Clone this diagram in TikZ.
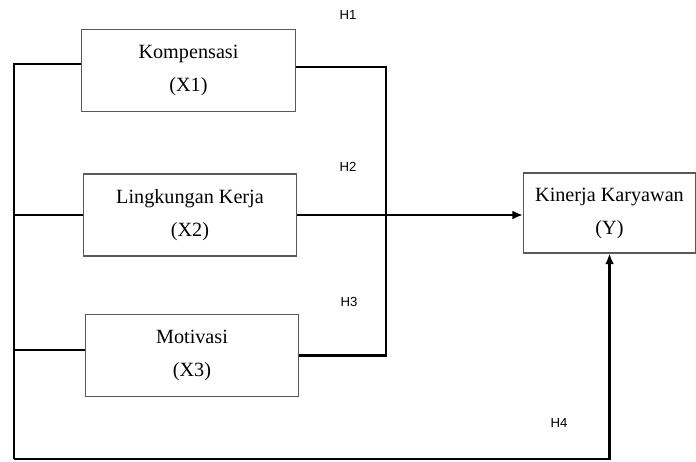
\documentclass[tikz,border=0pt]{standalone}
\usepackage{fontspec}
\setmainfont{Liberation Serif}
\newfontfamily\hfont{Liberation Sans}
\usetikzlibrary{positioning, arrows.meta}

\begin{document}
\begin{tikzpicture}[x=0.02cm, y=-0.02cm, >={Latex[length=6pt,width=5pt]}]

	% Stili per i riquadri, le etichette e i collegamenti
	\tikzset{
		varbox/.style={
			draw=black!65,
			line width=0.6pt,
			minimum width=4.27cm,
			minimum height=1.64cm,
			inner sep=0pt,
			align=center,
			font=\fontsize{11.5}{18.8}\selectfont
		},
		hlabel/.style={
			font=\hfont\fontsize{7.5}{8}\selectfont
		},
		link/.style={
			line width=1.2pt
		}
	}

	\useasboundingbox (0,0) rectangle (696,461);

	% Variabili indipendenti
	\node[varbox] (x1) at (188.5,70.5) {Kompensasi\\(X1)};
	\node[varbox] (x2) at (190,215)    {Lingkungan Kerja\\(X2)};
	\node[varbox] (x3) at (192,355.5)  {Motivasi\\(X3)};

	% Variabile dipendente
	\node[varbox, minimum width=3.44cm, minimum height=1.6cm] (y) at (609.5,213) {Kinerja Karyawan\\(Y)};

	% Punti delle linee di raccordo
	\coordinate (topL) at (14,64);
	\coordinate (midL) at (14,350);
	\coordinate (botL) at (14,459);
	\coordinate (topR) at (386,67);

	% Raccordo a sinistra (H4)
	\draw[link] (x1.west |- topL) -- (topL) -- (botL);
	\draw[link] (x2.west -| botL) -- (x2.west);
	\draw[link] (midL) -- (midL -| x3.west);
	\draw[link, ->] (botL) -| (y.south);

	% Raccordo a destra (H1, H2, H3)
	\draw[link] (x1.east |- topR) -- (topR) |- (x3.east);
	\draw[link, ->] (x2.east) -- (x2.east -| y.west);

	% Ipotesi
	\node[hlabel] (h1) at (348,15)  {H1};
	\node[hlabel] (h2) at (348,167) {H2};
	\node[hlabel] (h3) at (349,302) {H3};
	\node[hlabel] (h4) at (559,423) {H4};

\end{tikzpicture}
\end{document}
